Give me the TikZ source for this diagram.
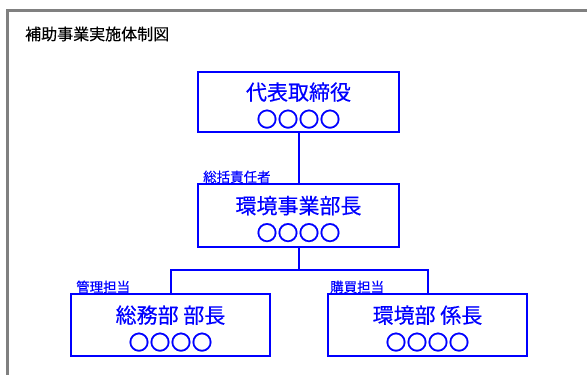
\documentclass[tikz,border=0pt]{standalone}
\usepackage{fontspec}
\setmainfont{Noto Sans CJK JP}
\newfontfamily\cjk{Noto Sans CJK JP}[FakeBold=0.4]
\newfontfamily\cjkt{Noto Sans CJK JP}[FakeBold=0.3]
\definecolor{boxblue}{RGB}{0,0,255}
\definecolor{framegray}{RGB}{128,128,128}
\begin{document}
\begin{tikzpicture}[x=1pt,y=-1pt,
  orgbox/.style={draw=boxblue,line width=2pt,rectangle,inner sep=0pt,minimum height=62pt},
  boxtext/.style={text=boxblue,align=center,inner sep=0pt,font=\cjk\fontsize{21}{27}\selectfont},
  rolelabel/.style={text=boxblue,anchor=base west,inner sep=0pt,font=\cjkt\fontsize{13.5}{15}\selectfont},
  conn/.style={draw=boxblue,line width=2pt}]
\useasboundingbox (0,0) rectangle (587,375);
% frame
\draw[framegray,line width=3pt] (7,375) -- (7,10) -- (587,10);
\node[anchor=base west,inner sep=0pt,font=\cjkt\fontsize{16}{18}\selectfont] (title) at (25,40) {補助事業実施体制図};
% boxes
\node[orgbox,minimum width=201pt,minimum height=60pt] (top) at (298.5,102) {};
\node[orgbox,minimum width=201pt,minimum height=63pt] (mid) at (298.5,215.5) {};
\node[orgbox,minimum width=199pt] (left) at (170.5,325) {};
\node[orgbox,minimum width=199pt] (right) at (427.5,325) {};
% texts
\node[boxtext] (topT) at ([yshift=-3.5pt]top.center) {代表取締役\\〇〇〇〇};
\node[boxtext] (midT) at ([yshift=-3.5pt]mid.center) {環境事業部長\\〇〇〇〇};
\node[boxtext] (leftT) at ([yshift=-3.5pt]left.center) {総務部 部長\\〇〇〇〇};
\node[boxtext] (rightT) at ([yshift=-3.5pt]right.center) {環境部 係長\\〇〇〇〇};
% labels
\node[rolelabel] (l1) at ([xshift=6pt,yshift=1pt]mid.north west) {総括責任者};
\node[rolelabel] (l2) at ([xshift=6pt,yshift=1pt]left.north west) {管理担当};
\node[rolelabel] (l3) at ([xshift=3pt,yshift=1pt]right.north west) {購買担当};
% connectors
\coordinate (j) at (298.5,270);
\draw[conn] (top.south) -- (mid.north);
\draw[conn] (mid.south) -- (j);
\draw[conn] (left.north) -- (left.north |- j) -- (right.north |- j) -- (right.north);
\end{tikzpicture}
\end{document}
